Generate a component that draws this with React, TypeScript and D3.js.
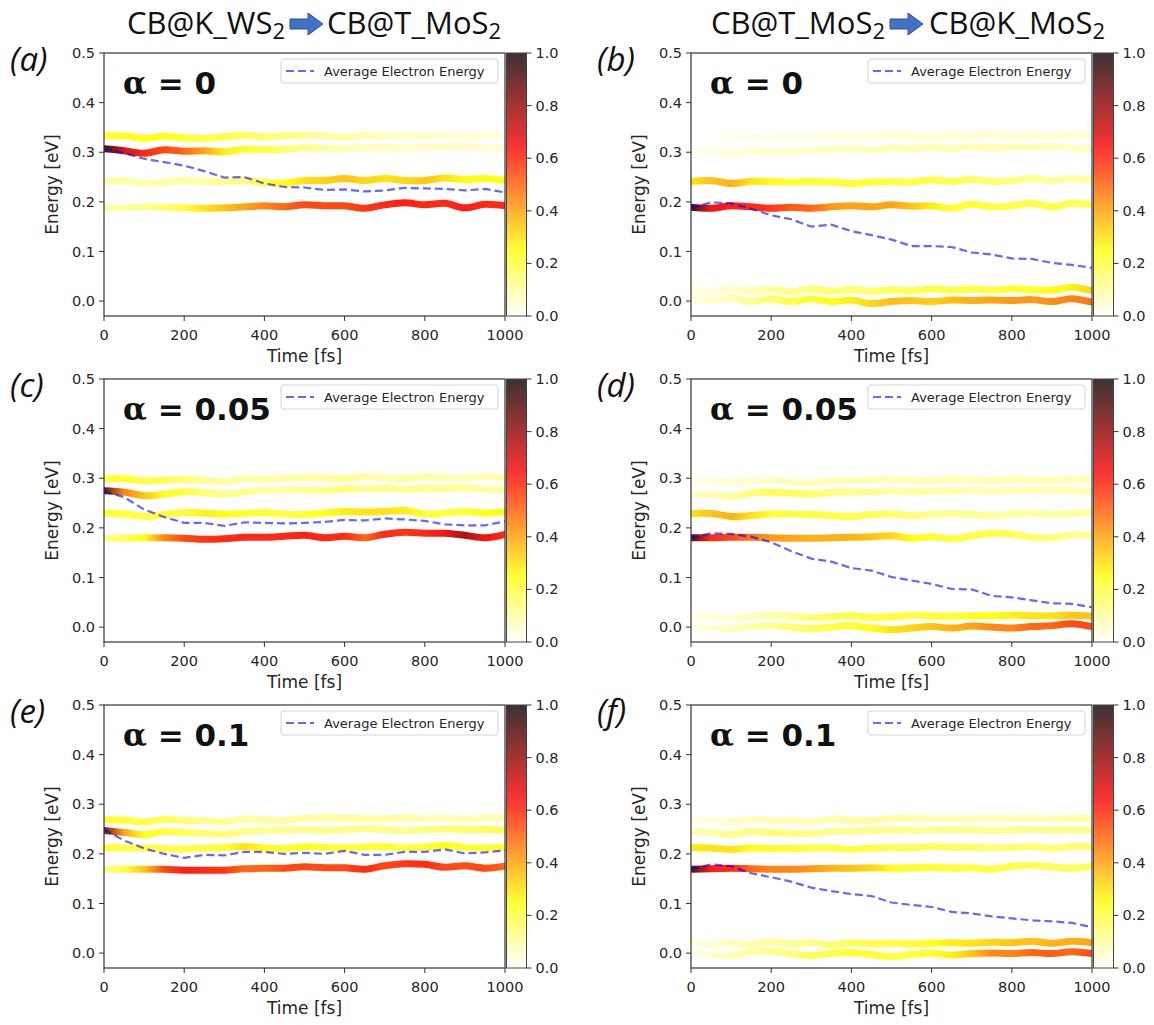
import React from "react";
import * as d3 from "d3";

// ---- data ----
const TIME = [0, 50, 100, 150, 200, 250, 300, 350, 400, 450, 500, 550, 600, 650, 700, 750, 800, 850, 900, 950, 1000];
const X_TICKS = [0, 200, 400, 600, 800, 1000];
const Y_TICKS = [0, 0.1, 0.2, 0.3, 0.4, 0.5];
const CBAR_TICKS = [0, 0.2, 0.4, 0.6, 0.8, 1.0];
const PANEL_LABELS = ["(a)", "(b)", "(c)", "(d)", "(e)", "(f)"];
const ALPHA_VALUES = ["0", "0", "0.05", "0.05", "0.1", "0.1"];
const TITLE_FROM = ["CB@K_WS", "CB@T_MoS"];
const TITLE_TO = ["CB@T_MoS", "CB@K_MoS"];
const LEGEND_LABEL = "Average Electron Energy";

// (a) alpha = 0, K_WS2 -> T_MoS2
const A_ENERGY = [
  [0.333, 0.333, 0.328, 0.332, 0.329, 0.328, 0.331, 0.334, 0.331, 0.333, 0.335, 0.333, 0.331, 0.334, 0.333, 0.335, 0.333, 0.334, 0.333, 0.335, 0.333],
  [0.307, 0.303, 0.298, 0.305, 0.302, 0.303, 0.301, 0.306, 0.305, 0.306, 0.309, 0.308, 0.307, 0.309, 0.310, 0.309, 0.311, 0.311, 0.312, 0.309, 0.308],
  [0.241, 0.243, 0.237, 0.240, 0.243, 0.241, 0.241, 0.243, 0.239, 0.238, 0.243, 0.243, 0.247, 0.243, 0.247, 0.243, 0.243, 0.248, 0.245, 0.247, 0.243],
  [0.187, 0.188, 0.190, 0.189, 0.188, 0.187, 0.188, 0.190, 0.192, 0.190, 0.194, 0.192, 0.192, 0.187, 0.194, 0.198, 0.194, 0.197, 0.188, 0.195, 0.192],
];
const A_POP = [
  [0.22, 0.24, 0.25, 0.24, 0.22, 0.2, 0.2, 0.18, 0.15, 0.14, 0.12, 0.1, 0.1, 0.08, 0.07, 0.06, 0.06, 0.05, 0.05, 0.04, 0.04],
  [0.95, 0.7, 0.6, 0.55, 0.5, 0.4, 0.28, 0.22, 0.2, 0.15, 0.12, 0.1, 0.08, 0.07, 0.07, 0.06, 0.06, 0.06, 0.06, 0.05, 0.05],
  [0.1, 0.1, 0.08, 0.1, 0.1, 0.1, 0.12, 0.15, 0.2, 0.25, 0.3, 0.33, 0.35, 0.32, 0.3, 0.32, 0.35, 0.3, 0.25, 0.25, 0.25],
  [0.08, 0.1, 0.12, 0.15, 0.2, 0.3, 0.35, 0.4, 0.45, 0.5, 0.55, 0.55, 0.55, 0.58, 0.6, 0.62, 0.6, 0.6, 0.62, 0.6, 0.6],
];
const A_AVG = [0.306, 0.298, 0.287, 0.280, 0.273, 0.262, 0.249, 0.250, 0.237, 0.230, 0.229, 0.224, 0.225, 0.221, 0.223, 0.228, 0.227, 0.226, 0.223, 0.226, 0.219];

// (b) alpha = 0, T_MoS2 -> K_MoS2
const B_ENERGY = [
  [0.333, 0.333, 0.330, 0.332, 0.329, 0.329, 0.331, 0.333, 0.331, 0.333, 0.335, 0.333, 0.331, 0.334, 0.333, 0.335, 0.333, 0.334, 0.333, 0.335, 0.333],
  [0.302, 0.303, 0.298, 0.303, 0.301, 0.301, 0.304, 0.306, 0.307, 0.304, 0.309, 0.307, 0.310, 0.307, 0.311, 0.309, 0.311, 0.310, 0.312, 0.309, 0.307],
  [0.241, 0.243, 0.237, 0.241, 0.241, 0.240, 0.241, 0.240, 0.237, 0.240, 0.241, 0.240, 0.244, 0.241, 0.245, 0.241, 0.243, 0.247, 0.243, 0.247, 0.243],
  [0.189, 0.187, 0.192, 0.190, 0.187, 0.189, 0.187, 0.190, 0.192, 0.190, 0.194, 0.191, 0.192, 0.187, 0.195, 0.190, 0.192, 0.197, 0.190, 0.197, 0.194],
  [0.023, 0.019, 0.025, 0.020, 0.024, 0.019, 0.025, 0.020, 0.024, 0.020, 0.023, 0.021, 0.025, 0.022, 0.025, 0.022, 0.025, 0.023, 0.022, 0.028, 0.021],
  [0.005, 0.001, 0.007, -0.001, 0.005, -0.001, 0.005, -0.001, 0.002, -0.005, -0.001, 0.001, -0.001, 0.002, 0.001, 0.002, 0.001, 0.003, -0.001, 0.005, -0.002],
];
const B_POP = [
  [0.0, 0.01, 0.02, 0.02, 0.03, 0.03, 0.03, 0.04, 0.04, 0.04, 0.05, 0.05, 0.05, 0.05, 0.05, 0.05, 0.05, 0.05, 0.05, 0.05, 0.05],
  [0.01, 0.03, 0.05, 0.05, 0.06, 0.06, 0.06, 0.07, 0.07, 0.07, 0.08, 0.08, 0.08, 0.08, 0.08, 0.08, 0.08, 0.08, 0.07, 0.07, 0.07],
  [0.3, 0.35, 0.38, 0.3, 0.25, 0.22, 0.22, 0.22, 0.22, 0.22, 0.2, 0.2, 0.2, 0.18, 0.16, 0.15, 0.13, 0.12, 0.1, 0.1, 0.1],
  [0.95, 0.65, 0.62, 0.6, 0.58, 0.52, 0.5, 0.42, 0.4, 0.4, 0.4, 0.35, 0.28, 0.22, 0.22, 0.2, 0.2, 0.2, 0.2, 0.18, 0.18],
  [0.04, 0.05, 0.06, 0.08, 0.1, 0.12, 0.14, 0.15, 0.15, 0.16, 0.18, 0.18, 0.2, 0.2, 0.2, 0.2, 0.22, 0.22, 0.25, 0.28, 0.32],
  [0.04, 0.06, 0.08, 0.12, 0.16, 0.2, 0.22, 0.25, 0.28, 0.32, 0.36, 0.35, 0.33, 0.36, 0.38, 0.4, 0.42, 0.42, 0.44, 0.45, 0.48],
];
const B_AVG = [0.187, 0.199, 0.197, 0.186, 0.173, 0.165, 0.150, 0.154, 0.141, 0.133, 0.124, 0.111, 0.111, 0.109, 0.098, 0.094, 0.086, 0.085, 0.077, 0.073, 0.067];

// (c) alpha = 0.05, K_WS2 -> T_MoS2
const C_ENERGY = [
  [0.299, 0.299, 0.295, 0.296, 0.298, 0.296, 0.293, 0.299, 0.298, 0.300, 0.302, 0.300, 0.299, 0.303, 0.301, 0.299, 0.303, 0.301, 0.300, 0.303, 0.301],
  [0.275, 0.272, 0.265, 0.268, 0.273, 0.271, 0.268, 0.272, 0.276, 0.276, 0.277, 0.276, 0.279, 0.279, 0.280, 0.278, 0.280, 0.280, 0.281, 0.278, 0.276],
  [0.230, 0.228, 0.223, 0.227, 0.231, 0.230, 0.228, 0.229, 0.231, 0.228, 0.227, 0.230, 0.233, 0.232, 0.233, 0.235, 0.228, 0.230, 0.233, 0.230, 0.233],
  [0.179, 0.179, 0.180, 0.180, 0.179, 0.177, 0.178, 0.181, 0.181, 0.183, 0.185, 0.180, 0.183, 0.180, 0.187, 0.191, 0.189, 0.189, 0.185, 0.180, 0.187],
];
const C_POP = [
  [0.22, 0.22, 0.2, 0.18, 0.15, 0.12, 0.1, 0.1, 0.1, 0.1, 0.1, 0.1, 0.12, 0.1, 0.08, 0.1, 0.1, 0.08, 0.08, 0.08, 0.1],
  [0.9, 0.45, 0.35, 0.25, 0.2, 0.15, 0.12, 0.12, 0.1, 0.1, 0.12, 0.12, 0.15, 0.12, 0.12, 0.12, 0.12, 0.12, 0.12, 0.1, 0.1],
  [0.22, 0.22, 0.2, 0.2, 0.22, 0.28, 0.25, 0.22, 0.22, 0.2, 0.22, 0.25, 0.28, 0.3, 0.3, 0.28, 0.22, 0.2, 0.22, 0.25, 0.25],
  [0.12, 0.18, 0.25, 0.45, 0.55, 0.58, 0.6, 0.6, 0.6, 0.6, 0.62, 0.6, 0.6, 0.5, 0.6, 0.58, 0.6, 0.65, 0.78, 0.65, 0.6],
];
const C_AVG = [0.273, 0.262, 0.237, 0.222, 0.210, 0.210, 0.204, 0.211, 0.210, 0.209, 0.210, 0.212, 0.216, 0.215, 0.219, 0.217, 0.214, 0.207, 0.205, 0.205, 0.213];

// (d) alpha = 0.05, T_MoS2 -> K_MoS2
const D_ENERGY = [
  [0.295, 0.295, 0.292, 0.294, 0.295, 0.293, 0.291, 0.295, 0.295, 0.296, 0.298, 0.296, 0.295, 0.298, 0.297, 0.295, 0.298, 0.297, 0.296, 0.298, 0.297],
  [0.268, 0.267, 0.263, 0.270, 0.272, 0.270, 0.268, 0.272, 0.273, 0.272, 0.275, 0.273, 0.274, 0.275, 0.276, 0.274, 0.276, 0.276, 0.277, 0.275, 0.274],
  [0.229, 0.229, 0.223, 0.225, 0.228, 0.228, 0.227, 0.225, 0.223, 0.227, 0.228, 0.225, 0.227, 0.229, 0.227, 0.225, 0.228, 0.230, 0.227, 0.229, 0.232],
  [0.180, 0.180, 0.181, 0.181, 0.180, 0.179, 0.179, 0.180, 0.181, 0.182, 0.184, 0.179, 0.182, 0.178, 0.184, 0.189, 0.187, 0.181, 0.180, 0.186, 0.185],
  [0.023, 0.020, 0.018, 0.021, 0.024, 0.022, 0.019, 0.021, 0.023, 0.020, 0.021, 0.024, 0.023, 0.022, 0.023, 0.023, 0.024, 0.023, 0.023, 0.024, 0.022],
  [0.002, -0.002, -0.003, 0.001, 0.003, 0.0, -0.003, 0.0, 0.003, -0.002, -0.005, -0.002, 0.001, -0.002, 0.002, 0.0, -0.002, 0.001, 0.003, 0.007, 0.001],
];
const D_POP = [
  [0.02, 0.04, 0.05, 0.06, 0.06, 0.07, 0.07, 0.08, 0.08, 0.08, 0.08, 0.08, 0.08, 0.08, 0.08, 0.08, 0.08, 0.08, 0.08, 0.08, 0.08],
  [0.06, 0.08, 0.1, 0.15, 0.18, 0.18, 0.16, 0.14, 0.12, 0.12, 0.1, 0.1, 0.1, 0.1, 0.08, 0.08, 0.08, 0.08, 0.08, 0.08, 0.08],
  [0.3, 0.35, 0.38, 0.3, 0.22, 0.2, 0.2, 0.2, 0.2, 0.18, 0.16, 0.15, 0.12, 0.12, 0.12, 0.1, 0.1, 0.1, 0.1, 0.1, 0.1],
  [0.92, 0.6, 0.55, 0.48, 0.42, 0.4, 0.38, 0.38, 0.38, 0.35, 0.32, 0.25, 0.22, 0.2, 0.2, 0.2, 0.18, 0.16, 0.14, 0.12, 0.12],
  [0.03, 0.04, 0.05, 0.07, 0.09, 0.12, 0.15, 0.18, 0.2, 0.2, 0.22, 0.2, 0.22, 0.22, 0.25, 0.25, 0.28, 0.3, 0.3, 0.35, 0.35],
  [0.03, 0.05, 0.07, 0.1, 0.12, 0.15, 0.18, 0.2, 0.22, 0.25, 0.3, 0.32, 0.35, 0.38, 0.4, 0.45, 0.45, 0.5, 0.5, 0.55, 0.55],
];
const D_AVG = [0.180, 0.189, 0.188, 0.182, 0.171, 0.153, 0.138, 0.132, 0.119, 0.114, 0.101, 0.094, 0.087, 0.077, 0.076, 0.063, 0.060, 0.054, 0.048, 0.047, 0.040];

// (e) alpha = 0.1, K_WS2 -> T_MoS2
const E_ENERGY = [
  [0.269, 0.268, 0.264, 0.270, 0.267, 0.267, 0.265, 0.270, 0.269, 0.267, 0.272, 0.273, 0.272, 0.271, 0.271, 0.273, 0.271, 0.273, 0.269, 0.273, 0.272],
  [0.247, 0.243, 0.239, 0.245, 0.243, 0.242, 0.240, 0.245, 0.247, 0.247, 0.249, 0.247, 0.249, 0.251, 0.249, 0.247, 0.249, 0.250, 0.249, 0.249, 0.247],
  [0.213, 0.212, 0.212, 0.211, 0.210, 0.212, 0.213, 0.215, 0.212, 0.211, 0.214, 0.213, 0.212, 0.214, 0.215, 0.212, 0.214, 0.217, 0.213, 0.212, 0.214],
  [0.169, 0.169, 0.169, 0.169, 0.167, 0.167, 0.167, 0.170, 0.171, 0.171, 0.174, 0.172, 0.172, 0.169, 0.176, 0.180, 0.179, 0.173, 0.176, 0.171, 0.175],
];
const E_POP = [
  [0.22, 0.22, 0.2, 0.18, 0.15, 0.12, 0.12, 0.1, 0.1, 0.1, 0.1, 0.1, 0.1, 0.1, 0.1, 0.1, 0.08, 0.08, 0.08, 0.08, 0.1],
  [0.85, 0.4, 0.25, 0.2, 0.18, 0.15, 0.15, 0.13, 0.12, 0.12, 0.12, 0.12, 0.12, 0.12, 0.12, 0.12, 0.13, 0.15, 0.15, 0.18, 0.18],
  [0.22, 0.2, 0.2, 0.2, 0.2, 0.2, 0.22, 0.3, 0.25, 0.22, 0.25, 0.22, 0.22, 0.22, 0.22, 0.2, 0.22, 0.25, 0.22, 0.22, 0.22],
  [0.12, 0.2, 0.35, 0.55, 0.62, 0.6, 0.58, 0.5, 0.5, 0.55, 0.55, 0.55, 0.55, 0.6, 0.55, 0.58, 0.6, 0.55, 0.55, 0.55, 0.5],
];
const E_AVG = [0.249, 0.227, 0.211, 0.200, 0.192, 0.198, 0.197, 0.204, 0.204, 0.200, 0.202, 0.200, 0.206, 0.198, 0.198, 0.204, 0.204, 0.209, 0.201, 0.203, 0.207];

// (f) alpha = 0.1, T_MoS2 -> K_MoS2
const F_ENERGY = [
  [0.269, 0.268, 0.264, 0.270, 0.267, 0.267, 0.265, 0.270, 0.268, 0.267, 0.271, 0.272, 0.271, 0.271, 0.270, 0.272, 0.271, 0.272, 0.270, 0.272, 0.271],
  [0.246, 0.243, 0.239, 0.245, 0.243, 0.242, 0.241, 0.245, 0.246, 0.247, 0.248, 0.247, 0.248, 0.249, 0.248, 0.247, 0.248, 0.249, 0.248, 0.248, 0.247],
  [0.213, 0.212, 0.209, 0.212, 0.211, 0.211, 0.212, 0.212, 0.209, 0.212, 0.213, 0.212, 0.215, 0.213, 0.213, 0.212, 0.213, 0.215, 0.211, 0.215, 0.214],
  [0.169, 0.170, 0.171, 0.170, 0.169, 0.169, 0.170, 0.171, 0.171, 0.172, 0.171, 0.172, 0.173, 0.171, 0.172, 0.169, 0.175, 0.177, 0.174, 0.171, 0.175],
  [0.022, 0.017, 0.021, 0.017, 0.023, 0.019, 0.021, 0.017, 0.021, 0.019, 0.020, 0.019, 0.020, 0.021, 0.020, 0.022, 0.021, 0.024, 0.020, 0.024, 0.021],
  [0.002, -0.003, -0.005, 0.002, 0.004, -0.001, -0.005, 0.0, 0.001, -0.003, -0.007, -0.003, 0.0, -0.004, -0.001, 0.0, -0.001, 0.001, -0.001, 0.003, -0.001],
];
const F_POP = [
  [0.02, 0.04, 0.06, 0.07, 0.08, 0.08, 0.08, 0.09, 0.1, 0.1, 0.1, 0.09, 0.08, 0.08, 0.08, 0.08, 0.08, 0.08, 0.08, 0.09, 0.1],
  [0.08, 0.1, 0.12, 0.13, 0.15, 0.14, 0.13, 0.12, 0.12, 0.12, 0.12, 0.12, 0.12, 0.12, 0.12, 0.12, 0.12, 0.12, 0.12, 0.12, 0.12],
  [0.28, 0.3, 0.3, 0.25, 0.22, 0.22, 0.2, 0.2, 0.2, 0.2, 0.18, 0.18, 0.18, 0.17, 0.16, 0.15, 0.15, 0.15, 0.15, 0.15, 0.15],
  [0.92, 0.62, 0.6, 0.5, 0.45, 0.45, 0.42, 0.38, 0.35, 0.32, 0.25, 0.23, 0.22, 0.22, 0.2, 0.2, 0.2, 0.18, 0.18, 0.18, 0.18],
  [0.03, 0.05, 0.07, 0.09, 0.1, 0.12, 0.13, 0.15, 0.18, 0.2, 0.2, 0.22, 0.25, 0.28, 0.3, 0.32, 0.35, 0.35, 0.38, 0.38, 0.4],
  [0.03, 0.05, 0.08, 0.1, 0.12, 0.15, 0.18, 0.2, 0.22, 0.22, 0.2, 0.22, 0.22, 0.28, 0.35, 0.45, 0.45, 0.5, 0.52, 0.5, 0.55],
];
const F_AVG = [0.169, 0.179, 0.175, 0.161, 0.153, 0.144, 0.132, 0.125, 0.119, 0.115, 0.102, 0.097, 0.093, 0.083, 0.080, 0.074, 0.070, 0.066, 0.064, 0.061, 0.052];

const PANELS = [
  { energy: A_ENERGY, pop: A_POP, avg: A_AVG },
  { energy: B_ENERGY, pop: B_POP, avg: B_AVG },
  { energy: C_ENERGY, pop: C_POP, avg: C_AVG },
  { energy: D_ENERGY, pop: D_POP, avg: D_AVG },
  { energy: E_ENERGY, pop: E_POP, avg: E_AVG },
  { energy: F_ENERGY, pop: F_POP, avg: F_AVG },
];

// ---- layout ----
const W = 1154;
const H = 1025;
const COL_X = [104, 691];
const ROW_Y = [53, 379, 705];
const PW = 401;
const PH = 263;
const CB_W = 20;
const BAND_ALPHA = 0.92;
const CBAR_ALPHA = 0.8;
const SANS = "DejaVu Sans";
const TEXT = "#262626";

// matplotlib "hot", reversed
function hotR(p: number) {
  const v = 1 - p;
  const c = (t: number) => Math.max(0, Math.min(1, t));
  const r = c(0.0416 + (v * (1 - 0.0416)) / 0.365079);
  const g = c((v - 0.365079) / (0.746032 - 0.365079));
  const b = c((v - 0.746032) / (1 - 0.746032));
  return d3.rgb(r * 255, g * 255, b * 255).formatHex();
}

function Arrow({ x, cy }: { x: number; cy: number }) {
  const p = d3.path();
  p.moveTo(x, cy - 5);
  p.lineTo(x + 18, cy - 5);
  p.lineTo(x + 18, cy - 11);
  p.lineTo(x + 33, cy);
  p.lineTo(x + 18, cy + 11);
  p.lineTo(x + 18, cy + 5);
  p.lineTo(x, cy + 5);
  p.closePath();
  return <path d={p.toString()} fill="#4472C4" stroke="#2F528F" strokeWidth={1} />;
}

function Title({ col }: { col: number }) {
  const arrowX = col === 0 ? 290 : 890;
  const endX = col === 0 ? 285 : 885;
  const startX = col === 0 ? 327 : 929;
  const font = { fontFamily: "Open Sans", fontSize: 31, fill: "#111" };
  return (
    <g>
      <text x={endX} y={34} textAnchor="end" {...font}>
        {TITLE_FROM[col]}
        <tspan fontSize={22} dy={5}>2</tspan>
      </text>
      <Arrow x={arrowX} cy={24} />
      <text x={startX} y={34} {...font}>
        {TITLE_TO[col]}
        <tspan fontSize={22} dy={5}>2</tspan>
      </text>
    </g>
  );
}

function Panel({ idx }: { idx: number }) {
  const col = idx % 2;
  const row = Math.floor(idx / 2);
  const x0 = COL_X[col];
  const y0 = ROW_Y[row];
  const panel = PANELS[idx];

  const x = d3.scaleLinear().domain([0, 1000]).range([x0, x0 + PW]);
  const y = d3.scaleLinear().domain([-0.03, 0.5]).range([y0 + PH, y0]);
  const cb = d3.scaleLinear().domain([0, 1]).range([y0 + PH, y0]);

  const bandLine = d3
    .line<number>()
    .x((_, i) => x(TIME[i]))
    .y((d) => y(d))
    .curve(d3.curveCatmullRom.alpha(0.5));
  const avgLine = d3
    .line<number>()
    .x((_, i) => x(TIME[i]))
    .y((d) => y(d));

  const clipId = `clip-${idx}`;
  const cbId = `cbar-${idx}`;
  const cbX = x0 + PW + 1.5;

  return (
    <g>
      <defs>
        <clipPath id={clipId}>
          <rect x={x0} y={y0} width={PW} height={PH} />
        </clipPath>
        {panel.pop.map((pops, b) => (
          <linearGradient
            key={b}
            id={`band-${idx}-${b}`}
            gradientUnits="userSpaceOnUse"
            x1={x(0)}
            x2={x(1000)}
            y1={0}
            y2={0}
          >
            {pops.map((p, i) => (
              <stop key={i} offset={TIME[i] / 1000} stopColor={hotR(p)} stopOpacity={BAND_ALPHA} />
            ))}
          </linearGradient>
        ))}
        <linearGradient id={cbId} x1={0} y1={1} x2={0} y2={0}>
          {d3.range(0, 1.0001, 0.05).map((t) => (
            <stop key={t} offset={t} stopColor={hotR(t)} stopOpacity={CBAR_ALPHA} />
          ))}
        </linearGradient>
      </defs>

      {/* bands */}
      <g clipPath={`url(#${clipId})`}>
        {panel.energy.map((es, b) => (
          <path
            key={b}
            d={bandLine(es) ?? ""}
            fill="none"
            stroke={`url(#band-${idx}-${b})`}
            strokeWidth={7}
            strokeLinecap="round"
          />
        ))}
        <path
          d={avgLine(panel.avg) ?? ""}
          fill="none"
          stroke="#0000ff"
          strokeOpacity={0.6}
          strokeWidth={2.2}
          strokeDasharray="8,4"
        />
      </g>

      {/* frame */}
      <rect x={x0} y={y0} width={PW} height={PH} fill="none" stroke="#333" strokeWidth={1.2} />

      {/* x ticks */}
      {X_TICKS.map((t) => (
        <g key={t}>
          <line x1={x(t)} x2={x(t)} y1={y0 + PH} y2={y0 + PH + 5} stroke="#333" strokeWidth={1} />
          <text x={x(t)} y={y0 + PH + 24} textAnchor="middle" fontFamily={SANS} fontSize={14.5} fill={TEXT}>
            {t}
          </text>
        </g>
      ))}
      {/* y ticks */}
      {Y_TICKS.map((t) => (
        <g key={t}>
          <line x1={x0 - 5} x2={x0} y1={y(t)} y2={y(t)} stroke="#333" strokeWidth={1} />
          <text x={x0 - 9} y={y(t)} dy="0.35em" textAnchor="end" fontFamily={SANS} fontSize={14.5} fill={TEXT}>
            {t.toFixed(1)}
          </text>
        </g>
      ))}

      <text
        transform={`translate(${x0 - 52},${y0 + PH / 2}) rotate(-90)`}
        dy="0.35em"
        textAnchor="middle"
        fontFamily={SANS}
        fontSize={17}
        fill={TEXT}
      >
        Energy [eV]
      </text>
      <text x={x0 + PW / 2} y={y0 + PH + 46} textAnchor="middle" fontFamily={SANS} fontSize={17} fill={TEXT}>
        Time [fs]
      </text>

      {/* alpha annotation */}
      <text x={x0 + 19} y={y0 + 41} fontSize={31} fontWeight="bold" fill="#111">
        <tspan fontFamily="DejaVu Serif">α</tspan>
        <tspan fontFamily="DejaVu Sans"> = {ALPHA_VALUES[idx]}</tspan>
      </text>

      {/* legend */}
      <g>
        <rect
          x={x0 + PW - 224}
          y={y0 + 6}
          width={217}
          height={24}
          rx={3}
          fill="#fff"
          fillOpacity={0.8}
          stroke="#d4d4d4"
          strokeWidth={1}
        />
        <line
          x1={x0 + PW - 219}
          x2={x0 + PW - 191}
          y1={y0 + 18}
          y2={y0 + 18}
          stroke="#0000ff"
          strokeOpacity={0.6}
          strokeWidth={2.2}
          strokeDasharray="8,4"
        />
        <text x={x0 + PW - 181} y={y0 + 18} dy="0.35em" fontFamily={SANS} fontSize={13} fill={TEXT}>
          {LEGEND_LABEL}
        </text>
      </g>

      {/* colorbar */}
      <rect x={cbX} y={y0} width={CB_W} height={PH} fill={`url(#${cbId})`} stroke="#444" strokeWidth={1} />
      {CBAR_TICKS.map((t) => (
        <g key={t}>
          <line x1={cbX + CB_W} x2={cbX + CB_W + 5} y1={cb(t)} y2={cb(t)} stroke="#333" strokeWidth={1} />
          <text x={cbX + CB_W + 9} y={cb(t)} dy="0.35em" fontFamily={SANS} fontSize={14.5} fill={TEXT}>
            {t.toFixed(1)}
          </text>
        </g>
      ))}

      {/* panel letter */}
      <text
        x={col === 0 ? 10 : 597}
        y={y0 + 18}
        fontFamily="Open Sans"
        fontStyle="italic"
        fontSize={33}
        fill="#111"
      >
        {PANEL_LABELS[idx]}
      </text>
    </g>
  );
}

export default function App() {
  return (
    <svg
      width={W}
      height={H}
      style={{ position: "absolute", left: 0, top: 0, display: "block", background: "#fff" }}
    >
      <rect width={W} height={H} fill="#fff" />
      <Title col={0} />
      <Title col={1} />
      {PANELS.map((_, i) => (
        <Panel key={i} idx={i} />
      ))}
    </svg>
  );
}
